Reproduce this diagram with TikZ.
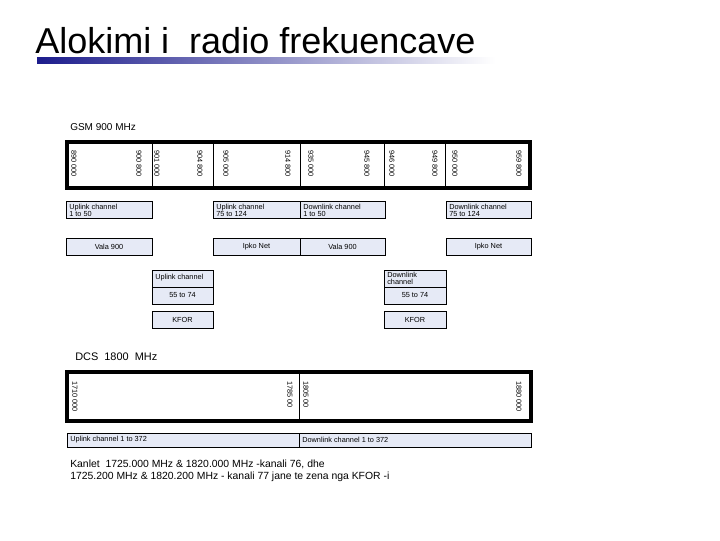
\documentclass[tikz,border=0pt]{standalone}
\usepackage{fontspec}
\setmainfont{Liberation Sans}
\usetikzlibrary{positioning}

\definecolor{boxfill}{RGB}{230,234,246}
\definecolor{titlebar}{RGB}{28,28,140}

\begin{document}
\begin{tikzpicture}[x=0.75pt,y=0.75pt,yscale=-1,xscale=1,
  box/.style={draw=black,fill=boxfill,line width=0.75},
  band/.style={draw=black,line width=2.6pt},
  txt/.style={inner sep=0.75pt,font=\fontsize{5.5}{5.4}\selectfont},
  freq/.style={txt,rotate=-90,anchor=west}]
%set diagram frame 720 x 540
\path (0,0) rectangle (720,540);

% Title
\node[anchor=base west,inner sep=0pt,font=\fontsize{27}{32}\selectfont] (title) at (35,53) {Alokimi i\ \ radio frekuencave};
\shade[left color=titlebar,right color=white] (37,57) rectangle (495,63);

% Text Node
\node[anchor=base west,inner sep=0pt,font=\fontsize{7.5}{9}\selectfont] (gsm) at (70,130) {GSM 900 MHz};

%Shape: GSM band
\draw[band] (67,142) rectangle (530,188);
\draw[line width=0.75] (152,142) -- (152,188);
\draw[line width=0.75] (213,142) -- (213,188);
\draw[line width=0.75] (300,142) -- (300,188);
\draw[line width=0.75] (384,142) -- (384,188);
\draw[line width=0.75] (445,142) -- (445,188);

% Frequency Nodes
\node[freq] (g1a) at (74,149) {890 000};
\node[freq] (g1b) at (139,149) {900 800};
\node[freq] (g2a) at (157,149) {901 000};
\node[freq] (g2b) at (200,149) {904 800};
\node[freq] (g3a) at (226,149) {905 000};
\node[freq] (g3b) at (288,149) {914 800};
\node[freq] (g4a) at (311,149) {935 000};
\node[freq] (g4b) at (367,149) {945 800};
\node[freq] (g5a) at (392,149) {946 000};
\node[freq] (g5b) at (435,149) {949 800};
\node[freq] (g6a) at (455,149) {950 000};
\node[freq] (g6b) at (519,149) {959 800};

%Shape: Rectangle - channels
\draw[box] (66,201) rectangle (152,218);
\draw[box] (213,201) rectangle (300,218);
\draw[box] (300,201) rectangle (385,218);
\draw[box] (446,201) rectangle (531,218);
% Text Node
\node[txt,anchor=north west,align=left] (upA) at (68,202.5) {Uplink channel\\1 to 50};
\node[txt,anchor=north west,align=left] (upB) at (215,202.5) {Uplink channel\\75 to 124};
\node[txt,anchor=north west,align=left] (dnA) at (302,202.5) {Downlink channel\\1 to 50};
\node[txt,anchor=north west,align=left] (dnB) at (448,202.5) {Downlink channel\\75 to 124};

%Shape: Rectangle - operators
\draw[box] (66,238) rectangle (152,255);
\draw[box] (213,238) rectangle (300,255);
\draw[box] (300,238) rectangle (385,255);
\draw[box] (446,238) rectangle (531,255);
% Text Node
\node[txt] (valaUp) at (109,246.5) {Vala 900};
\node[txt] (ipkoUp) at (256.5,246.5) {Ipko Net};
\node[txt] (valaDn) at (342.5,246.5) {Vala 900};
\node[txt] (ipkoDn) at (488.5,246.5) {Ipko Net};

%Shape: Rectangle - KFOR channels
\draw[box] (152,270) rectangle (213,287);
\draw[box] (152,287) rectangle (213,304);
\draw[box] (152,311) rectangle (213,328);
\draw[box] (384,270) rectangle (446,287);
\draw[box] (384,287) rectangle (446,304);
\draw[box] (384,311) rectangle (446,328);
% Text Node
\node[txt,anchor=north west] (upK) at (154,273) {Uplink channel};
\node[txt] (upKch) at (182.5,295.5) {55 to 74};
\node[txt] (upKfor) at (182.5,319.5) {KFOR};
\node[txt,anchor=north west,align=left] (dnK) at (386,271) {Downlink\\channel};
\node[txt] (dnKch) at (415,295.5) {55 to 74};
\node[txt] (dnKfor) at (415,319.5) {KFOR};

% Text Node
\node[anchor=base west,inner sep=0pt,font=\fontsize{8.2}{10}\selectfont] (dcs) at (75,360) {DCS\ \ 1800\ \ MHz};

%Shape: DCS band
\draw[band] (67,372) rectangle (531,421);
\draw[line width=0.75] (299,372) -- (299,421);

% Frequency Nodes
\node[freq] (d1a) at (75,380) {1710 000};
\node[freq] (d1b) at (290,380) {1785 00};
\node[freq] (d2a) at (306,380) {1805 00};
\node[freq] (d2b) at (519,380) {1880 000};

%Shape: Rectangle - DCS channels
\draw[box] (67,433) rectangle (299,447);
\draw[box] (299,433) rectangle (531,447);
% Text Node
\node[txt,anchor=west] (dcsUp) at (69,440) {Uplink channel 1 to 372};
\node[txt,anchor=west] (dcsDn) at (301,440) {Downlink channel 1 to 372};

% Text Node
\node[anchor=base west,inner sep=0pt,font=\fontsize{7.8}{9}\selectfont] (kan1) at (70,467) {Kanlet\ \ 1725.000 MHz \& 1820.000 MHz -kanali 76, dhe};
\node[anchor=base west,inner sep=0pt,font=\fontsize{7.8}{9}\selectfont] (kan2) at (70,479) {1725.200 MHz \& 1820.200 MHz - kanali 77 jane te zena nga KFOR -i};

\end{tikzpicture}
\end{document}
